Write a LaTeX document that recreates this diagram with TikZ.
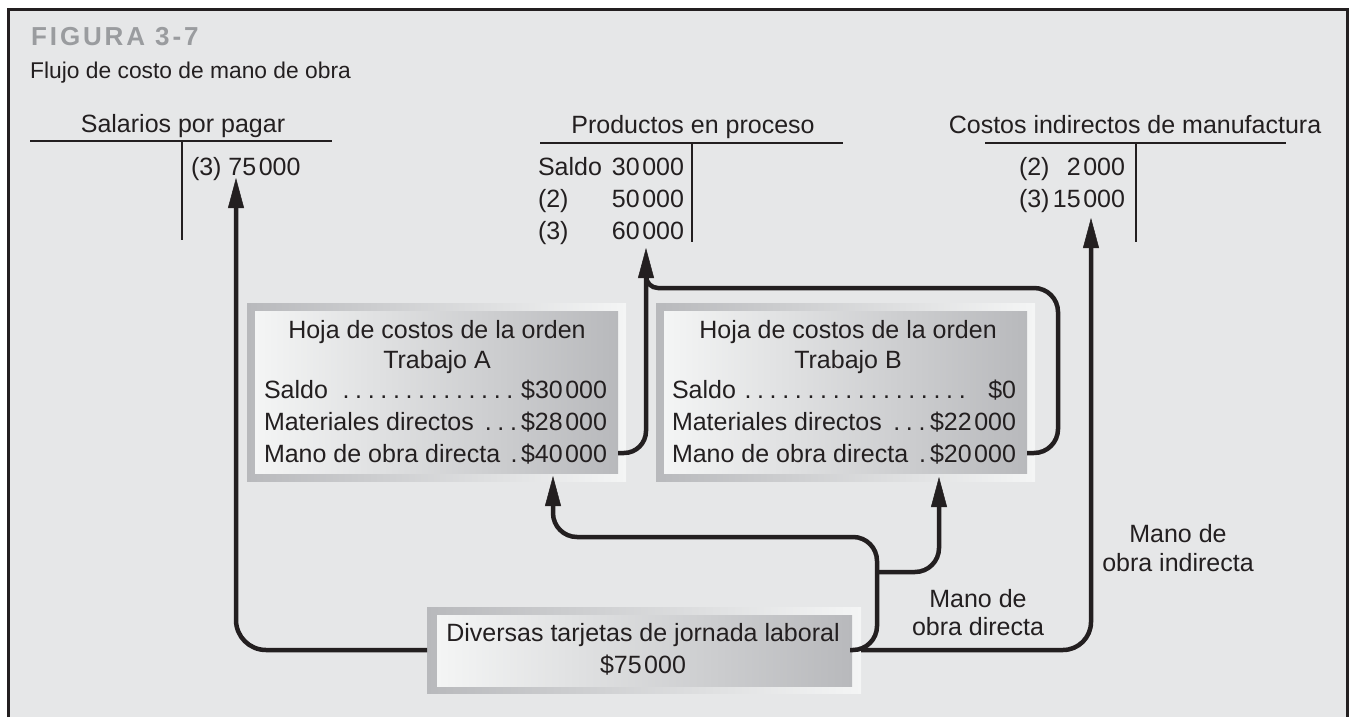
\documentclass[tikz,border=0pt]{standalone}
\usepackage{fontspec}
\setmainfont{Liberation Sans}
\usetikzlibrary{arrows.meta}
\definecolor{ink}{HTML}{231F20}
\definecolor{bg}{HTML}{E6E7E8}
\definecolor{titlegray}{HTML}{9A9C9F}
\definecolor{boxdark}{HTML}{B8B9BC}
\definecolor{boxlight}{HTML}{F4F5F5}
\newcommand{\thsp}{\kern2.5pt}
\newcommand{\dotrow}[3]{\hbox to #1{#2\cleaders\hbox to 12.6pt{\hss.\hss}\hfill#3}}
\newcommand{\taccrow}[3]{\hbox to #1{#2\hfill#3}}
\begin{document}
\begin{tikzpicture}[x=1pt,y=-1pt,
  txt/.style={inner sep=0pt, outer sep=0pt, text=ink, font=\fontsize{25}{30}\selectfont},
  tline/.style={draw=ink, line width=2.6pt},
  flow/.style={draw=ink, line width=4.5pt},
  flowarrow/.style={flow, -{Triangle[length=30pt,width=16pt,line width=0.5pt]}},
  outerbox/.style={inner sep=0pt, outer sep=0pt, left color=boxdark, right color=boxlight, draw=none},
  innerbox/.style={inner sep=0pt, outer sep=0pt, left color=boxlight, right color=boxdark, draw=none},
]
\useasboundingbox (0,0) rectangle (1351,717);
% frame
\fill[bg] (8,9) rectangle (1348,717);
\draw[ink, line width=3pt] (8.5,717) -- (8.5,9.5) -- (1347.5,9.5) -- (1347.5,717);

% titles
\node[anchor=base west, inner sep=0pt, text=titlegray,
      font=\fontsize{26}{30}\selectfont\bfseries\addfontfeatures{LetterSpace=11}] (fig) at (31,46) {FIGURA 3-7};
\node[anchor=base west, inner sep=0pt, text=ink, font=\fontsize{22.8}{27}\selectfont] (sub) at (30,78) {Flujo de costo de mano de obra};

% T-account 1: Salarios por pagar
\node[txt, anchor=base] (sal) at (183,132) {Salarios por pagar};
\coordinate (salL) at (30,141);
\coordinate (salR) at (332,141);
\coordinate (salT) at (182,141);
\coordinate (salB) at (182,240);
\draw[tline] (salL) -- (salR);
\draw[tline] (salT) -- (salB);
\node[txt, anchor=base west] (sal3) at (191,175) {(3) 75\thsp000};

% T-account 2: Productos en proceso
\node[txt, anchor=base] (pep) at (693,133) {Productos en proceso};
\coordinate (pepL) at (540,143);
\coordinate (pepR) at (843,143);
\coordinate (pepT) at (692,143);
\coordinate (pepB) at (692,242);
\draw[tline] (pepL) -- (pepR);
\draw[tline] (pepT) -- (pepB);
\node[txt, anchor=base west] (pep1) at (538,175) {\taccrow{146pt}{Saldo}{30\thsp000}};
\node[txt, anchor=base west] (pep2) at (538,207) {\taccrow{146pt}{(2)}{50\thsp000}};
\node[txt, anchor=base west] (pep3) at (538,239) {\taccrow{146pt}{(3)}{60\thsp000}};

% T-account 3: Costos indirectos de manufactura
\node[txt, anchor=base] (cif) at (1135,133) {Costos indirectos de manufactura};
\coordinate (cifL) at (985,143);
\coordinate (cifR) at (1286,143);
\coordinate (cifT) at (1136,143);
\coordinate (cifB) at (1136,242);
\draw[tline] (cifL) -- (cifR);
\draw[tline] (cifT) -- (cifB);
\node[txt, anchor=base west] (cif2) at (1019,175) {\taccrow{106pt}{(2)}{2\thsp000}};
\node[txt, anchor=base west] (cif3) at (1019,207) {\taccrow{106pt}{(3)}{15\thsp000}};

% Box A
\node[outerbox, minimum width=379pt, minimum height=178pt] (boxA) at (436.5,392) {};
\node[innerbox, minimum width=363pt, minimum height=162pt] (boxAi) at (436.5,392) {};
\node[txt, anchor=base] (a0) at (437,338) {Hoja de costos de la orden};
\node[txt, anchor=base] (a1) at (437,368) {Trabajo A};
\node[txt, anchor=base west] (a2) at (264,398) {\dotrow{343pt}{Saldo\ }{\$30\thsp000}};
\node[txt, anchor=base west] (a3) at (264,430) {\dotrow{343pt}{Materiales directos\ }{\$28\thsp000}};
\node[txt, anchor=base west] (a4) at (264,462) {\dotrow{343pt}{Mano de obra directa\ }{\$40\thsp000}};

% Box B
\node[outerbox, minimum width=379pt, minimum height=178pt] (boxB) at (845.5,392) {};
\node[innerbox, minimum width=363pt, minimum height=162pt] (boxBi) at (845.5,392) {};
\node[txt, anchor=base] (b0) at (848,338) {Hoja de costos de la orden};
\node[txt, anchor=base] (b1) at (848,368) {Trabajo B};
\node[txt, anchor=base west] (b2) at (672,398) {\dotrow{344pt}{Saldo}{\ \ \$0}};
\node[txt, anchor=base west] (b3) at (672,430) {\dotrow{344pt}{Materiales directos\ }{\$22\thsp000}};
\node[txt, anchor=base west] (b4) at (672,462) {\dotrow{344pt}{Mano de obra directa\ }{\$20\thsp000}};

% Box C
\node[outerbox, minimum width=434pt, minimum height=86pt] (cards) at (644,650) {};
\node[innerbox, minimum width=415pt, minimum height=71pt] (cardsi) at (644.5,650.5) {};
\node[txt, anchor=base] (c0) at (643,641) {Diversas tarjetas de jornada laboral};
\node[txt, anchor=base] (c1) at (643,673) {\$75\thsp000};

% labels
\node[txt, anchor=base] (mdo1) at (978,607) {Mano de};
\node[txt, anchor=base] (mdo2) at (978,635) {obra directa};
\node[txt, anchor=base] (moi1) at (1178,542) {Mano de};
\node[txt, anchor=base] (moi2) at (1178,571) {obra indirecta};

% connector points
\coordinate (cW) at (427,650);
\coordinate (cE1) at (850,650);
\coordinate (cE2) at (861,650);
\coordinate (salTip) at (236,178);
\coordinate (aTip) at (553,476);
\coordinate (bTip) at (939,477);
\coordinate (pepTip) at (646,248);
\coordinate (cifTip) at (1091,218);
\coordinate (aOut) at (618,453);
\coordinate (bOut) at (1027,453);
\coordinate (split) at (877,572);
\coordinate (merge) at (646,266);

% connectors
\draw[flowarrow, rounded corners=30pt] (cW) -- (salTip |- cW) -- (salTip);
\draw[flowarrow, rounded corners=24pt] (cE1) -- (877,650) -- (877,537) -- (553,537) -- (aTip);
\draw[flowarrow, rounded corners=24pt] (split) -- (bTip |- split) -- (bTip);
\draw[flowarrow, rounded corners=28pt] (cE2) -- (cifTip |- cE2) -- (cifTip);
\draw[flowarrow, rounded corners=22pt] (aOut) -- (pepTip |- aOut) -- (pepTip);
\draw[flow, rounded corners=24pt] (bOut) -- (1058,453) -- (1058,288) [rounded corners=12pt] -- (646,288) -- (merge);
\end{tikzpicture}
\end{document}
